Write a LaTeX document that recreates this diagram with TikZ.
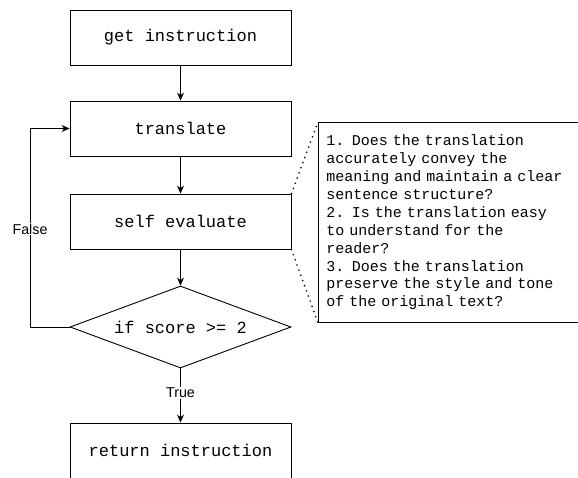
\documentclass[tikz,border=0pt]{standalone}
\usepackage{fontspec}
\setmainfont{Liberation Sans}
\setsansfont{Liberation Sans}
\setmonofont{Liberation Mono}
\usepackage{tikz}
\usetikzlibrary{shapes.geometric,arrows.meta}

\tikzset{
  box/.style={draw, line width=0.9pt, minimum width=221pt, minimum height=55pt,
    inner sep=0pt, font=\ttfamily\fontsize{17}{20}\selectfont},
  cond/.style={draw, diamond, aspect=2.7, line width=0.9pt, minimum width=221pt, minimum height=82pt,
    inner sep=0pt, font=\ttfamily\fontsize{17}{20}\selectfont},
  note/.style={draw, line width=0.9pt, minimum width=282pt, minimum height=200pt,
    text width=266pt, inner xsep=8pt, align=left,
    font=\ttfamily\fontsize{15}{17.9}\selectfont},
  lbl/.style={fill=white, inner sep=1pt, font=\sffamily\fontsize{14.3}{16}\selectfont},
  arr/.style={line width=0.9pt, -{Stealth[length=8pt,width=7pt]}},
  link/.style={line width=1.8pt, line cap=round, dash pattern=on 0pt off 5.5pt}
}

\begin{document}
\begin{tikzpicture}[x=1pt, y=-1pt]
      \useasboundingbox (0,0) rectangle (578,477);
      \node[box] (get) at (180.5,37.5) {get instruction};
      \node[box] (trans) at (180.5,128.5) {translate};
      \node[box] (self) at (180.5,221.5) {self evaluate};
      \node[cond] (check) at (180.5,327) {if score >= 2};
      \node[box] (ret) at (180.5,450.5) {return instruction};
      \node[note, anchor=north west] (crit) at (318,122) {1. Does the translation\\
        accurately convey the\\
        meaning and maintain a clear\\
        sentence structure?\\
        2. Is the translation easy\\
        to understand for the\\
        reader?\\
        3. Does the translation\\
        preserve the style and tone\\
        of the original text?};
      \draw[arr] (get) -- (trans);
      \draw[arr] (trans) -- (self);
      \draw[arr] (self) -- (check);
      \draw[arr] (check.south) -- (ret.north);
      \draw[arr] (check.west) -| (30,128.5) -- (trans.west);
      \node[lbl] (false) at (30,229) {False};
      \node[lbl] (true) at (180.5,393) {True};
      \draw[link] (self.north east) -- (crit.north west);
      \draw[link] (self.south east) -- (crit.south west);
\end{tikzpicture}
\end{document}
